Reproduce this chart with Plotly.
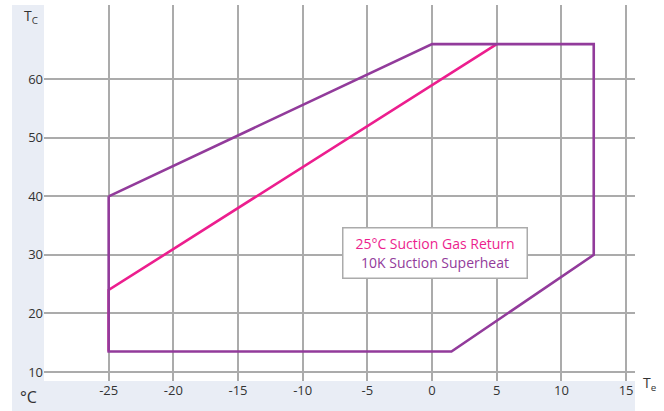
import plotly.graph_objects as go

# Envelope (purple) polygon: evaporating temp Te vs condensing temp Tc
env_te = [-25, 0, 12.5, 12.5, 1.5, -25, -25]
env_tc = [40, 66, 66, 30, 13.5, 13.5, 40]

# 25°C suction gas return limit (pink)
sgr_te = [-25, -25, 5]
sgr_tc = [13.5, 24, 66]

x_ticks = [-25, -20, -15, -10, -5, 0, 5, 10, 15]
y_ticks = [10, 20, 30, 40, 50, 60]

PURPLE = "#923B9B"
PINK = "#EC1E8E"
GRID = "#ABABAB"
BLUE = "#E9EDF5"
FONT = "Open Sans"
PW, PH = 591, 376  # plot area size in px

fig = go.Figure()
fig.add_trace(go.Scatter(x=sgr_te, y=sgr_tc, mode="lines",
                         line=dict(color=PINK, width=2.6), hoverinfo="skip"))
fig.add_trace(go.Scatter(x=env_te, y=env_tc, mode="lines",
                         line=dict(color=PURPLE, width=2.6), hoverinfo="skip"))

# light blue strips outside the plot area (left and bottom)
fig.add_shape(type="rect", xref="paper", yref="paper",
              x0=-32/PW, x1=0, y0=-30/PH, y1=1.0,
              fillcolor=BLUE, line=dict(width=0), layer="below")
fig.add_shape(type="rect", xref="paper", yref="paper",
              x0=-32/PW, x1=1.0, y0=-30/PH, y1=0,
              fillcolor=BLUE, line=dict(width=0), layer="below")

fig.add_annotation(x=0.2, y=30.3, xref="x", yref="y",
                   text=f"<span style='color:{PINK}'>25°C Suction Gas Return</span><br>"
                        f"<span style='color:{PURPLE}'>10K Suction Superheat</span>",
                   showarrow=False, bgcolor="white", bordercolor=GRID, borderwidth=1.5,
                   width=181, height=47, borderpad=1, align="center",
                   font=dict(size=14, family=FONT))

fig.add_annotation(xref="paper", yref="paper", x=-13/PW, y=1 - 12/PH,
                   text="T<sub>C</sub>", showarrow=False, xanchor="center", yanchor="middle",
                   font=dict(size=14, color="#333", family=FONT))
fig.add_annotation(xref="paper", yref="paper", x=1 + 14/PW, y=-2/PH,
                   text="T<sub>e</sub>", showarrow=False, xanchor="center", yanchor="middle",
                   font=dict(size=14, color="#333", family=FONT))
fig.add_annotation(xref="paper", yref="paper", x=-16/PW, y=-16/PH,
                   text="°C", showarrow=False, xanchor="center", yanchor="middle",
                   font=dict(size=16, color="#333", family=FONT))

fig.update_xaxes(range=[-30, 15.69], tickvals=x_ticks, ticktext=[str(v) for v in x_ticks],
                 showgrid=True, gridcolor=GRID, gridwidth=1.5, zeroline=False,
                 showline=False, ticks="", tickfont=dict(size=13, color="#333", family=FONT),
                 fixedrange=True, automargin=False)
fig.update_yaxes(range=[8.46, 72.68], tickvals=y_ticks, ticktext=[str(v) for v in y_ticks],
                 showgrid=True, gridcolor=GRID, gridwidth=1.5, zeroline=False,
                 showline=False, ticks="", tickfont=dict(size=13, color="#333", family=FONT),
                 fixedrange=True, automargin=False)

fig.update_layout(width=664, height=411, showlegend=False,
                  margin=dict(l=44, r=29, t=5, b=30, autoexpand=False),
                  paper_bgcolor="white", plot_bgcolor="white",
                  font=dict(family=FONT))

fig.write_html("out.html", config={"displayModeBar": False},
               post_script="document.body.style.margin='0';document.body.style.overflow='hidden';")
